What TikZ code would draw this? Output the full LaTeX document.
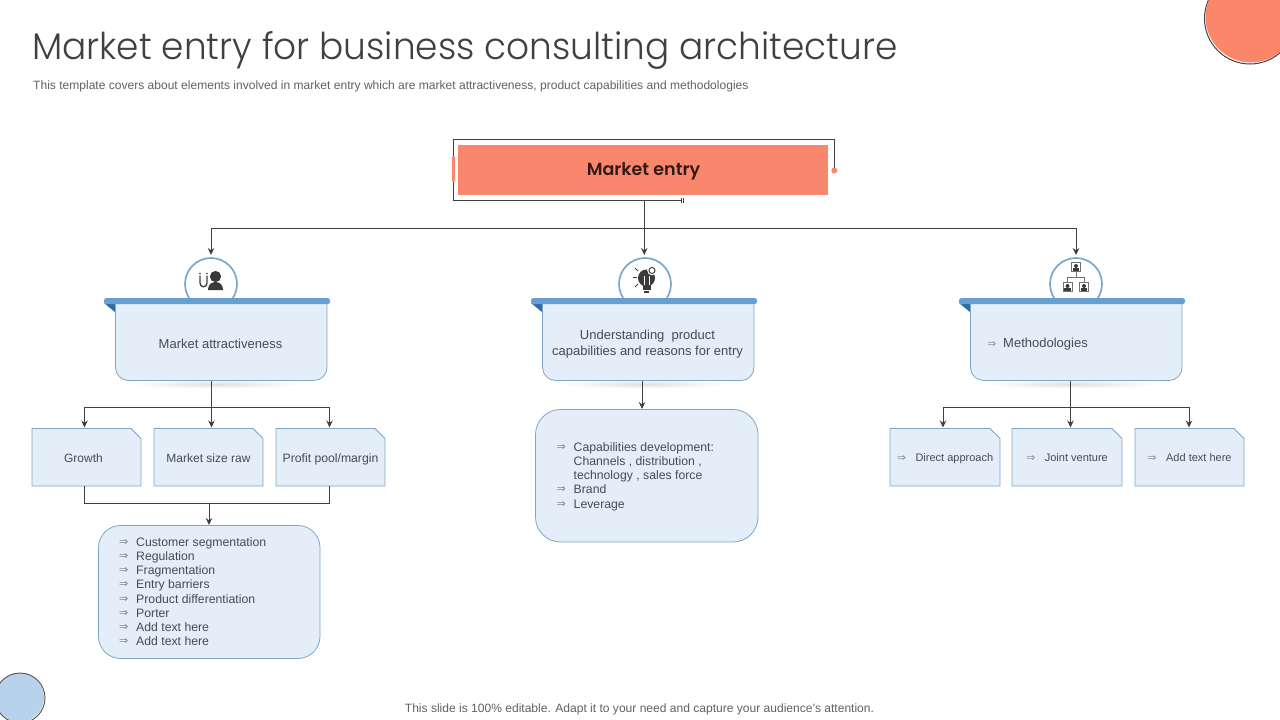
\documentclass[tikz,border=0pt]{standalone}
\usepackage{fontspec}
\usepackage{graphicx}
\setmainfont{Liberation Sans}
\newfontfamily\titlefont{Poppins Light}
\newfontfamily\headfont{Poppins SemiBold}
\newfontfamily\symfont{DejaVu Sans}
\usetikzlibrary{arrows.meta,shadings}
\definecolor{salmon}{HTML}{F8876D}
\definecolor{corner}{HTML}{FB866A}
\definecolor{ink}{HTML}{404040}
\definecolor{txt}{HTML}{474B52}
\definecolor{paleblue}{HTML}{E4EEF8}
\definecolor{edgeblue}{HTML}{7FA6C4}
\definecolor{band}{HTML}{659FD3}
\definecolor{banddark}{HTML}{2E6DA4}
\definecolor{ringblue}{HTML}{7BA7C9}
\definecolor{softblue}{HTML}{B7D2EA}
\newcommand{\bul}{\makebox[17pt][l]{\raisebox{1pt}{\symfont\fontsize{11}{8}\selectfont\color{black!50}⇒}}}
\newcommand{\smallbul}{{\symfont\fontsize{11}{8}\selectfont\color{black!45}⇒}\hspace{9.5pt}}
\tikzset{
  x=1pt,y=-1pt,
  conn/.style={draw=ink,line width=1pt},
  arr/.style={conn,-{Stealth[length=7pt,width=6.5pt]}},
  shapefill/.style={fill=paleblue,draw=edgeblue,line width=0.8pt},
  label/.style={text=txt,font=\fontsize{12}{14.25}\selectfont,inner sep=0pt},
  listlabel/.style={label,font=\fontsize{12.25}{14.25}\selectfont,align=left,anchor=north west},
  headlabel/.style={label,font=\fontsize{13}{16}\selectfont,align=center,minimum width=211pt,minimum height=76pt},
  ring/.style={draw=ringblue,line width=1.7pt,fill=white},
  icon/.style={fill=ink!90!black,draw=none},
}
% #1 name, #2 band left x, #3 text
\newcommand{\headbox}[3]{%
  \shade[inner color=black!18,outer color=white,opacity=.7] (#2+113,384) ellipse [x radius=85pt,y radius=4.5pt];
  \fill[banddark] (#2,303) -- (#2+11.5,303) -- (#2+11.5,312.5) -- cycle;
  \path[shapefill,rounded corners=13pt] (#2+11.5,303) -- (#2+11.5,380.5) -- (#2+223,380.5) -- (#2+223,303);
  \path[fill=band,rounded corners=2.5pt] (#2,298) -- (#2+226,298) -- (#2+226,304.2) -- (#2+10,304.2) -- (#2,304.2) -- cycle;
  \node[headlabel] (#1) at (#2+116.5,344.3) {#3};
}
% #1 name, #2 left x, #3 width, #4 text
\newcommand{\foldbox}[4]{%
  \path[shapefill] (#2,428.5) -- (#2+#3-10,428.5) -- (#2+#3,438.5) -- (#2+#3,486) -- (#2,486) -- cycle;
  \node[label,minimum width=#3pt,minimum height=57.5pt] (#1) at (#2+#3/2,459) {\vphantom{Agp}#4};
}
\newcommand{\ringat}[1]{%
  \begin{scope}
    \clip (#1-30,250) rectangle (#1+30,297);
    \draw[ring] (#1,284) circle [radius=26pt];
  \end{scope}
}
\begin{document}
\begin{tikzpicture}
\useasboundingbox (0,0) rectangle (1280,720);
% corner circles
\draw[ink,line width=1pt] (1250,18.5) circle [radius=45.5pt];
\fill[corner] (1251,17) circle [radius=45.5pt];
\fill[softblue] (19.5,697.5) circle [radius=24.5pt];
\draw[ink!90,line width=.9pt] (20,698) circle [radius=25pt];
% title
\node[inner sep=0pt,anchor=base west,text=ink,font=\titlefont\fontsize{37}{44}\selectfont] (title) at (32,59) {\scalebox{.97}[1]{Market entry for business consulting architecture}};
\node[inner sep=0pt,anchor=base west,text=black!62,font=\fontsize{12.05}{14}\selectfont] (subtitle) at (33,89) {This template covers about elements involved in market entry which are market attractiveness, product capabilities and methodologies};
\node[inner sep=0pt,text=black!62,font=\fontsize{12.05}{14}\selectfont] (footer) at (639.5,709) {This slide is 100\% editable. Adapt it to your need and capture your audience’s attention.};
% root
\coordinate (frameTL) at (453.3,139);
\coordinate (frameTR) at (834.3,139);
\coordinate (frameBL) at (453.3,200.3);
\coordinate (frameEnd) at (681.5,200.3);
\coordinate (frameDot) at (834.3,170.5);
\draw[conn] (frameDot) -- (frameTR) -- (frameTL) -- (frameBL) -- (frameEnd);
\draw[ink,line width=.6pt] (681.7,198) -- (681.7,203) (683.2,198) -- (683.2,203);
\fill[salmon] (frameDot) circle [radius=3pt];
\path[fill=salmon,rounded corners=1pt] (452,156) rectangle (455,182);
\node[fill=salmon,inner sep=0pt,minimum width=370pt,minimum height=50pt] (root) at (643,170) {};
\node[inner sep=0pt,text=black!80!salmon,font=\headfont\fontsize{17.5}{22}\selectfont] (roottext) at (643.5,171) {Market entry};
% head boxes
\ringat{211}\ringat{645}\ringat{1076}
\headbox{attr}{104}{Market attractiveness}
\headbox{prod}{531}{Understanding\ \ product\\capabilities and reasons for entry}
\headbox{meth}{959}{\makebox[177pt][l]{{\symfont\fontsize{11}{8}\selectfont\color{black!45}⇒}\hspace{7pt}Methodologies}}
% second row
\foldbox{growth}{32}{109}{\hspace{-6pt}Growth}
\foldbox{msize}{154}{109}{Market size raw}
\foldbox{profit}{276}{109}{\fontsize{12.2}{14}\selectfont Profit pool/margin}
\foldbox{direct}{890}{110}{\fontsize{11}{12}\selectfont\raisebox{1.3pt}{\smallbul Direct approach}}
\foldbox{joint}{1012}{110}{\fontsize{11}{12}\selectfont\raisebox{1.3pt}{\smallbul Joint  venture}}
\foldbox{addt}{1135}{109}{\fontsize{11}{12}\selectfont\raisebox{1.3pt}{\smallbul Add text here}}
% lists
\path[shapefill,rounded corners=22pt] (98.5,525.5) rectangle (320,658.5);
\coordinate (listA) at (209,525);
\node[listlabel] (alist) at (119,537) {\bul Customer segmentation\\\bul Regulation\\\bul Fragmentation\\\bul Entry barriers\\\bul Product differentiation\\\bul Porter\\\bul Add text here\\\bul Add text here};
\path[shapefill,rounded corners=25pt] (535.5,409.5) rectangle (758,542);
\coordinate (listB) at (642,409);
\node[listlabel] (blist) at (556.5,442) {\bul Capabilities development:\\\makebox[17pt]{}Channels , distribution ,\\\makebox[17pt]{}technology , sales force\\\bul Brand\\\bul Leverage};
% connectors
\coordinate (rootdrop) at (644.3,200.3);
\coordinate (bus) at (644.3,228.5);
\draw[conn] (rootdrop) -- (bus);
\draw[arr] (bus) -- (644.3,255);
\draw[arr] (bus) -| (211,255);
\draw[arr] (bus) -| (1076,255);
% attractiveness tree
\coordinate (abus) at (211.5,407);
\draw[conn] (211.5,380.5) -- (abus);
\draw[arr] (abus) -- (211.5,427.5);
\draw[arr] (abus) -| (84.5,427.5);
\draw[arr] (abus) -| (329.5,427.5);
\coordinate (amerge) at (209,503.5);
\draw[conn] (84.5,486) |- (amerge) -| (329.5,486);
\draw[arr] (amerge) -- (listA);
% product
\draw[arr] (642,380.5) -- (listB);
% methodologies tree
\coordinate (mbus) at (1070.5,407);
\draw[conn] (1070.5,380.5) -- (mbus);
\draw[arr] (mbus) -- (1070.5,427.5);
\draw[arr] (mbus) -| (943,427.5);
\draw[arr] (mbus) -| (1189,427.5);
% icon: magnet and person
\draw[ink,line width=1.4pt] (200,275.5) -- (200,283) .. controls (200,288) and (207,288) .. (207,283) -- (207,275.5);
\fill[icon] (200,273.5) circle [radius=.9pt] (207,273.5) circle [radius=.9pt];
\fill[icon] (215.5,276.5) circle [radius=5.6pt];
\fill[icon] (208,290) .. controls (208.5,283) and (212,282.5) .. (215.5,282) .. controls (219,282.5) and (222.5,283) .. (223,290) -- cycle;
% icon: bulb
\fill[icon] (646.5,278) circle [radius=8.5pt];
\fill[icon] (642.5,283) rectangle (650.5,290);
\fill[icon] (644,290.5) rectangle (649,292.5);
\draw[white,line width=.7pt] (644,276) -- (644,285) (649,276) -- (649,285);
\fill[white] (652,270.5) circle [radius=4.8pt];
\draw[ink,line width=1pt] (652,270.5) circle [radius=3pt];
\draw[ink,line width=.9pt] (633,277.5) -- (637,277.5) (635,268) -- (638,271) (635,287) -- (638,284);
% icon: org chart
\draw[black!55,line width=.8pt] (1076,271) -- (1076,277) (1067.5,283) -- (1067.5,277) -- (1084,277) -- (1084,283);
\foreach \cx/\cy in {1076/267,1067.5/287,1084/287}{
  \draw[black!55,fill=white,line width=.8pt] (\cx-4.5,\cy-4.5) rectangle (\cx+4.5,\cy+4.5);
  \fill[icon] (\cx,\cy-1) circle [radius=2pt];
  \fill[icon] (\cx-3.2,\cy+3.5) rectangle (\cx+3.2,\cy+.7);
}
\end{tikzpicture}
\end{document}
